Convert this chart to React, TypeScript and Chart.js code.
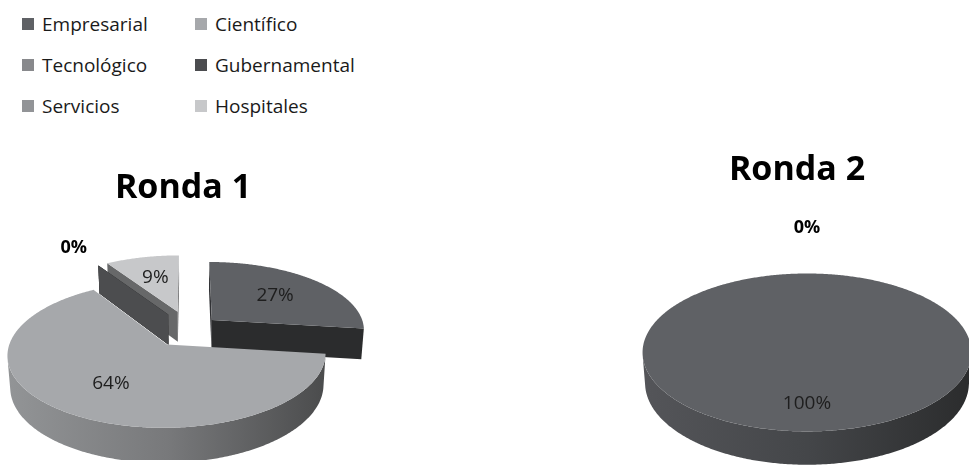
import React, { useEffect, useRef } from "react";
import { Chart, registerables } from "chart.js";

Chart.register(...registerables);

// ---- data ----
const categories = ["Empresarial", "Científico", "Tecnológico", "Gubernamental", "Servicios", "Hospitales"];
const ronda1Values = [27, 64, 0, 0, 0, 9];
const ronda2Values = [100, 0, 0, 0, 0, 0];
const chartTitles = ["Ronda 1", "Ronda 2"];

// ---- styles ----
const sliceColors = ["#5f6165", "#a6a8ab", "#88898c", "#4b4c4f", "#929497", "#c7c8ca"];
const ronda1Offsets = [31, 40, 40, 40, 40, 42];
const ronda2Offsets = [0, 0, 0, 0, 0, 0];
const FONT = "'Open Sans', 'DejaVu Sans', sans-serif";

function shade(hex: string, f: number): string {
  const n = parseInt(hex.slice(1), 16);
  const r = Math.round(((n >> 16) & 255) * f);
  const g = Math.round(((n >> 8) & 255) * f);
  const b = Math.round((n & 255) * f);
  return `rgb(${r},${g},${b})`;
}

// Draws the pie arcs computed by Chart.js as a 3-D disc seen in perspective.
const pie3dPlugin = {
  id: "pie3d",
  beforeDatasetsDraw(chart: any, _args: any, opts: any) {
    const ctx: CanvasRenderingContext2D = chart.ctx;
    const meta = chart.getDatasetMeta(0);
    const values: number[] = chart.data.datasets[0].data;
    const els = meta.data;
    if (!els.length) return false;
    const sinE: number = opts.elevation;
    const cosE = Math.sqrt(1 - sinE * sinE);
    const L: number = opts.distance;
    const H: number = opts.depth;
    const x0: number = els[0].x;
    const y0: number = els[0].y;
    const camV = L * cosE;
    const P = (u: number, v: number, h: number): [number, number] => {
      const z = L - v * cosE - h * sinE;
      return [x0 + (L * u) / z, y0 + (L * (v * sinE - h * cosE)) / z];
    };
    const zOf = (u: number, v: number, h: number) => L - v * cosE - h * sinE;

    const slices = els.map((el: any, i: number) => {
      const p = el.getProps(["startAngle", "endAngle", "outerRadius"], true);
      const off = el.options.offset || 0;
      const mid = (p.startAngle + p.endAngle) / 2;
      return {
        i,
        sa: p.startAngle as number,
        ea: p.endAngle as number,
        mid,
        r: p.outerRadius as number,
        off,
        ou: Math.cos(mid) * off,
        ov: Math.sin(mid) * off,
        color: el.options.backgroundColor as string,
        value: values[i],
      };
    });

    ctx.save();

    // ---- radial walls ----
    const walls: any[] = [];
    slices.forEach((sl: any) => {
      if (sl.ea - sl.sa >= 2 * Math.PI - 1e-6) return;
      {
        const a = sl.sa;
        const d = Math.sin(a) * (0 - sl.ou) - Math.cos(a) * (camV - sl.ov);
        if (d > 1e-6) walls.push({ sl, a, f: 0.52 });
      }
      {
        const a = sl.ea;
        const d = -Math.sin(a) * (0 - sl.ou) + Math.cos(a) * (camV - sl.ov);
        if (d > 1e-6) walls.push({ sl, a, f: 0.45 });
      }
    });
    walls.forEach((w) => {
      w.z = zOf(w.sl.ou + (Math.cos(w.a) * w.sl.r) / 2, w.sl.ov + (Math.sin(w.a) * w.sl.r) / 2, -H / 2);
    });
    walls.sort((A, B) => (Math.abs(A.z - B.z) > 0.5 ? B.z - A.z : A.sl.i - B.sl.i));
    walls.forEach(({ sl, a, f }) => {
      const eu = sl.ou + Math.cos(a) * sl.r;
      const ev = sl.ov + Math.sin(a) * sl.r;
      const p1 = P(sl.ou, sl.ov, 0);
      const p2 = P(eu, ev, 0);
      const p3 = P(eu, ev, -H);
      const p4 = P(sl.ou, sl.ov, -H);
      ctx.beginPath();
      ctx.moveTo(p1[0], p1[1]);
      ctx.lineTo(p2[0], p2[1]);
      ctx.lineTo(p3[0], p3[1]);
      ctx.lineTo(p4[0], p4[1]);
      ctx.closePath();
      ctx.fillStyle = shade(sl.color, f);
      ctx.fill();
    });

    // ---- curved outer walls ----
    slices.forEach((sl: any) => {
      if (sl.ea - sl.sa <= 1e-6) return;
      const n = Math.max(2, Math.ceil((sl.ea - sl.sa) / 0.01));
      const runs: number[][] = [];
      let cur: number[] | null = null;
      for (let j = 0; j <= n; j++) {
        const t = sl.sa + ((sl.ea - sl.sa) * j) / n;
        const vis = -sl.ou * Math.cos(t) - sl.r + (camV - sl.ov) * Math.sin(t) > 0;
        if (vis) {
          if (!cur) {
            cur = [];
            runs.push(cur);
          }
          cur.push(t);
        } else cur = null;
      }
      const left = P(sl.ou - sl.r, sl.ov, 0)[0];
      const right = P(sl.ou + sl.r, sl.ov, 0)[0];
      const grad = ctx.createLinearGradient(left, 0, right, 0);
      grad.addColorStop(0, shade(sl.color, 0.88));
      grad.addColorStop(0.5, shade(sl.color, 0.72));
      grad.addColorStop(1, shade(sl.color, 0.45));
      runs.forEach((run) => {
        if (run.length < 2) return;
        ctx.beginPath();
        run.forEach((t, j) => {
          const q = P(sl.ou + sl.r * Math.cos(t), sl.ov + sl.r * Math.sin(t), 0);
          if (j === 0) ctx.moveTo(q[0], q[1]);
          else ctx.lineTo(q[0], q[1]);
        });
        for (let j = run.length - 1; j >= 0; j--) {
          const t = run[j];
          const q = P(sl.ou + sl.r * Math.cos(t), sl.ov + sl.r * Math.sin(t), -H);
          ctx.lineTo(q[0], q[1]);
        }
        ctx.closePath();
        ctx.fillStyle = grad;
        ctx.fill();
      });
    });

    // ---- top faces ----
    slices.forEach((sl: any) => {
      if (sl.ea - sl.sa <= 1e-6) return;
      const n = Math.max(2, Math.ceil((sl.ea - sl.sa) / 0.01));
      ctx.beginPath();
      const c0 = P(sl.ou, sl.ov, 0);
      ctx.moveTo(c0[0], c0[1]);
      for (let j = 0; j <= n; j++) {
        const t = sl.sa + ((sl.ea - sl.sa) * j) / n;
        const q = P(sl.ou + sl.r * Math.cos(t), sl.ov + sl.r * Math.sin(t), 0);
        ctx.lineTo(q[0], q[1]);
      }
      ctx.closePath();
      ctx.fillStyle = sl.color;
      ctx.fill();
    });

    // ---- value labels ----
    ctx.textAlign = "center";
    ctx.textBaseline = "middle";
    const seen = new Set<string>();
    slices.forEach((sl: any) => {
      const txt = `${sl.value}%`;
      if (sl.value > 0) {
        const d = sl.r * opts.labelFraction;
        const q = P(sl.ou + Math.cos(sl.mid) * d, sl.ov + Math.sin(sl.mid) * d, 0);
        ctx.font = `400 19px ${FONT}`;
        ctx.fillStyle = "#1e1e1e";
        ctx.fillText(txt, q[0], q[1]);
      } else {
        const d = sl.r + opts.outsideGap;
        const q = P(Math.cos(sl.mid) * d, Math.sin(sl.mid) * d, 0);
        const key = `${Math.round(q[0])}_${Math.round(q[1])}`;
        if (seen.has(key)) return;
        seen.add(key);
        ctx.font = `700 18px ${FONT}`;
        ctx.fillStyle = "#000";
        ctx.fillText(txt, q[0], q[1]);
      }
    });
    ctx.restore();
    return false;
  },
  afterDraw(chart: any, _args: any, opts: any) {
    const ctx: CanvasRenderingContext2D = chart.ctx;
    ctx.save();
    ctx.font = `700 34px ${FONT}`;
    ctx.fillStyle = "#000";
    ctx.textAlign = "center";
    ctx.textBaseline = "alphabetic";
    ctx.fillText(opts.titleText, opts.titleX, opts.titleBaseline);
    ctx.restore();
  },
};

type PieProps = {
  title: string;
  values: number[];
  offsets: number[];
  left: number;
  top: number;
  width: number;
  height: number;
  radius: number;
  elevation: number;
  distance: number;
  depth: number;
  padTop: number;
  padBottom: number;
  outsideGap: number;
  labelFraction: number;
  titleX: number;
  titleBaseline: number;
};

function Pie3D(props: PieProps) {
  const ref = useRef<HTMLCanvasElement>(null);
  useEffect(() => {
    const chart = new Chart(ref.current as HTMLCanvasElement, {
      type: "pie",
      data: {
        labels: categories,
        datasets: [
          {
            data: props.values,
            backgroundColor: sliceColors,
            offset: props.offsets,
            radius: props.radius,
            borderWidth: 0,
          } as any,
        ],
      },
      options: {
        responsive: false,
        animation: false,
        events: [],
        layout: { padding: { left: 0, right: 0, top: props.padTop, bottom: props.padBottom } },
        plugins: {
          legend: { display: false },
          tooltip: { enabled: false },
          title: { display: false },
          pie3d: {
            elevation: props.elevation,
            distance: props.distance,
            depth: props.depth,
            labelFraction: props.labelFraction,
            outsideGap: props.outsideGap,
            titleText: props.title,
            titleX: props.titleX,
            titleBaseline: props.titleBaseline,
          },
        } as any,
      },
      plugins: [pie3dPlugin as any],
    });
    return () => chart.destroy();
  }, []);
  return (
    <canvas
      ref={ref}
      width={props.width}
      height={props.height}
      style={{ position: "absolute", left: props.left, top: props.top, width: props.width, height: props.height }}
    />
  );
}

function Legend() {
  const rowY = [24, 65, 106];
  const colX = [22, 195];
  return (
    <>
      {categories.map((c, i) => {
        const col = i % 2;
        const row = Math.floor(i / 2);
        return (
          <div key={c}>
            <div
              style={{
                position: "absolute",
                left: colX[col],
                top: rowY[row] - 6,
                width: 12,
                height: 12,
                background: sliceColors[i],
              }}
            />
            <div
              style={{
                position: "absolute",
                left: colX[col] + 20,
                top: rowY[row] - 12,
                height: 24,
                lineHeight: "24px",
                fontFamily: FONT,
                fontSize: 19,
                color: "#1a1a1a",
                whiteSpace: "nowrap",
              }}
            >
              {c}
            </div>
          </div>
        );
      })}
    </>
  );
}

export default function App() {
  return (
    <div
      style={{
        position: "fixed",
        left: 0,
        top: 0,
        width: 969,
        height: 466,
        overflow: "hidden",
        background: "#fff",
      }}
    >
      <Legend />
      <Pie3D
        title={chartTitles[0]}
        values={ronda1Values}
        offsets={ronda1Offsets}
        left={0}
        top={150}
        width={378}
        height={310}
        radius={153}
        elevation={0.444}
        distance={1041}
        depth={35}
        padTop={48}
        padBottom={0}
        outsideGap={102}
        labelFraction={0.6}
        titleX={183}
        titleBaseline={48}
      />
      <Pie3D
        title={chartTitles[1]}
        values={ronda2Values}
        offsets={ronda2Offsets}
        left={617}
        top={140}
        width={380}
        height={360}
        radius={163}
        elevation={0.476}
        distance={1082}
        depth={35}
        padTop={44}
        padBottom={0}
        outsideGap={134}
        labelFraction={0.72}
        titleX={180}
        titleBaseline={40}
      />
    </div>
  );
}
